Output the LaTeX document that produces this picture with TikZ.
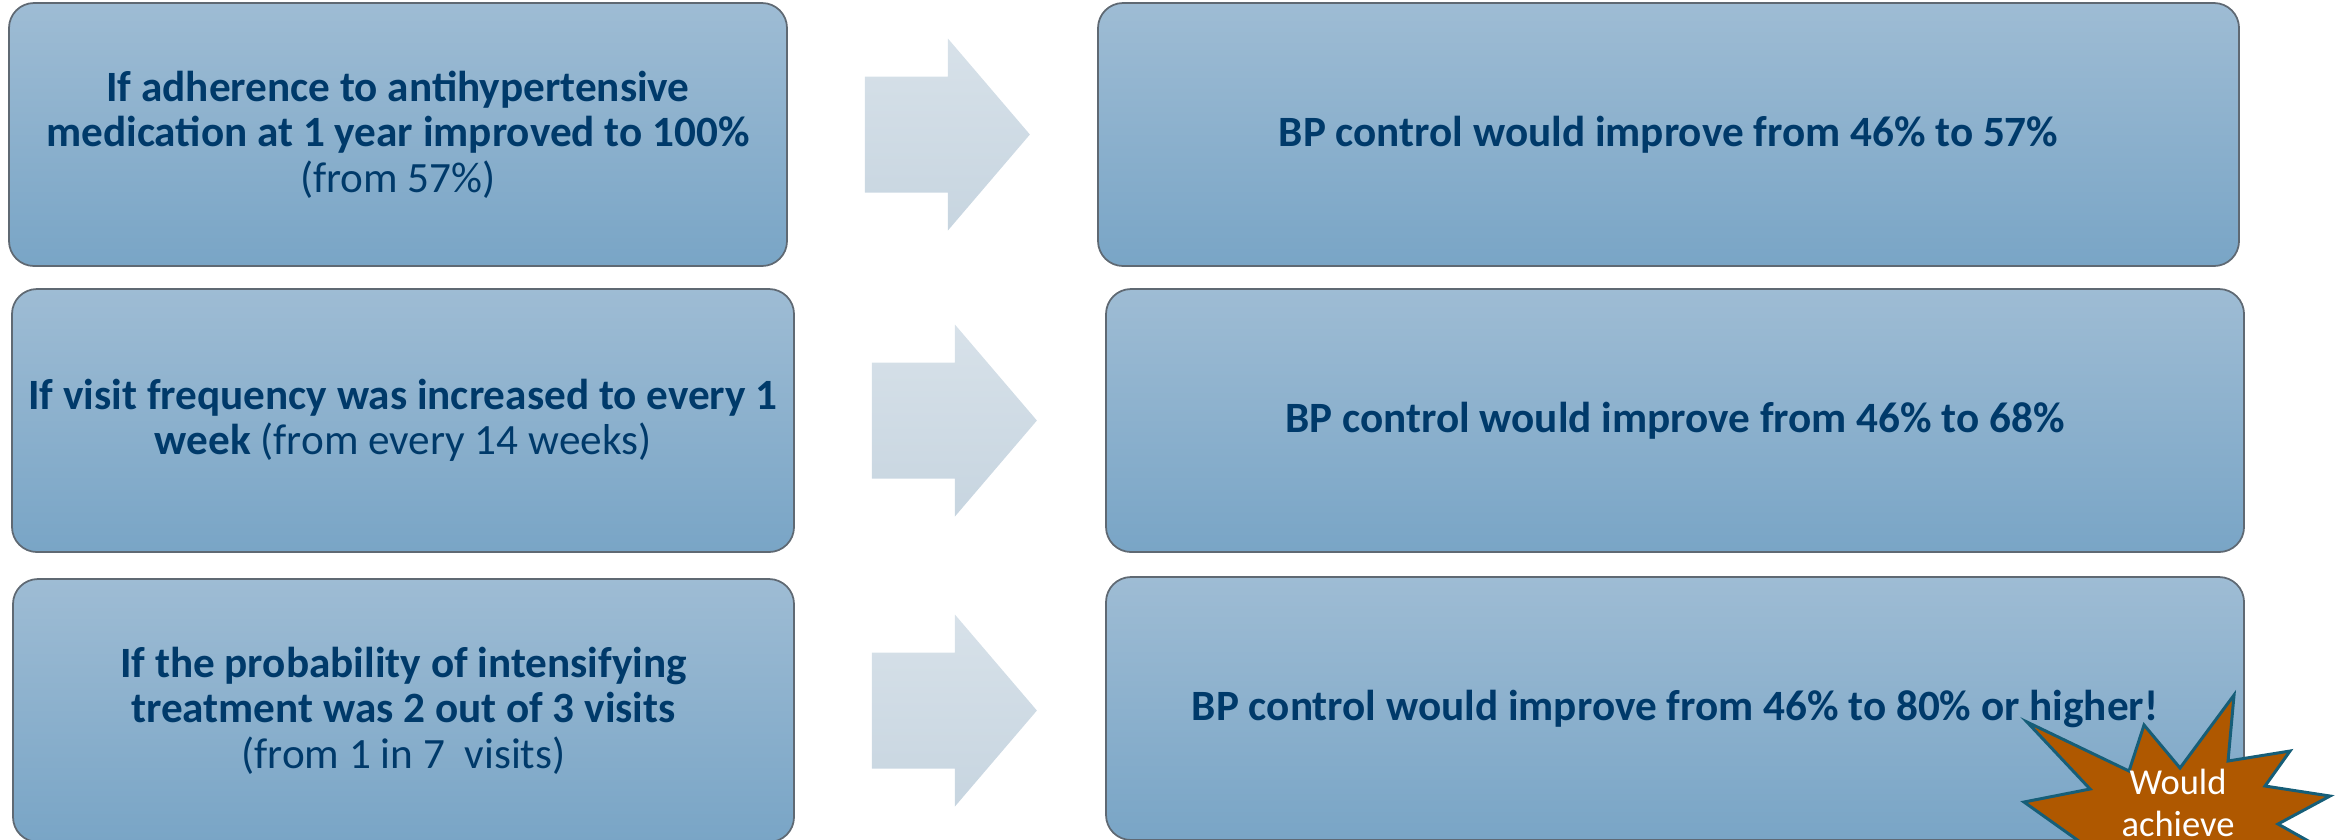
\documentclass[tikz,border=0pt]{standalone}
\usepackage{fontspec}
\setmainfont{Carlito}
\usetikzlibrary{calc}

\definecolor{boxtop}{RGB}{158,188,212}
\definecolor{boxbot}{RGB}{121,165,198}
\definecolor{boxline}{RGB}{95,105,115}
\definecolor{navy}{RGB}{0,58,106}
\definecolor{arrtop}{RGB}{215,225,233}
\definecolor{arrbot}{RGB}{199,213,224}
\definecolor{burst}{RGB}{175,88,0}
\definecolor{burstline}{RGB}{22,94,120}

\tikzset{
  box/.style={draw=boxline, line width=0.5pt, rounded corners=0.25cm,
    top color=boxtop, bottom color=boxbot, text=navy, align=center,
    inner sep=0pt, minimum height=2.63cm,
    font=\fontsize{12.3}{12.9}\selectfont},
  arrowfill/.style={top color=arrtop, bottom color=arrbot, draw=none},
  blockarrow/.pic={
    \path[arrowfill] (0,0.58) -- (0.83,0.58) -- (0.83,0.96) -- (1.65,0)
      -- (0.83,-0.96) -- (0.83,-0.58) -- (0,-0.58) -- cycle;
  },
  burstlabel/.style={text=white, align=center, inner sep=0pt,
    font=\fontsize{10.4}{12}\selectfont},
}

\begin{document}
\begin{tikzpicture}
  \path[use as bounding box, clip] (0,0) rectangle (23.51,-8.39);

  % left column: the changes
  \node[box, minimum width=7.78cm] (l1) at (3.98,-1.345)
    {\textbf{If adherence to antihypertensive}\\
     \textbf{medication at 1 year improved to 100\%}\\
     (from 57\%)};
  \node[box, minimum width=7.82cm] (l2) at (4.03,-4.205)
    {\textbf{If visit frequency was increased to every 1}\\
     \textbf{week} (from every 14 weeks)};
  \node[box, minimum width=7.81cm] (l3) at (4.035,-7.105)
    {\textbf{If the probability of intensifying}\\
     \textbf{treatment was 2 out of 3 visits}\\
     (from 1 in 7\ \ visits)};

  % right column: the outcomes
  \node[box, minimum width=11.41cm] (r1) at (16.685,-1.345)
    {\textbf{BP control would improve from 46\% to 57\%}};
  \node[box, minimum width=11.38cm] (r2) at (16.75,-4.205)
    {\textbf{BP control would improve from 46\% to 68\%}};
  \node[box, minimum width=11.38cm] (r3) at (16.75,-7.085)
    {\textbf{BP control would improve from 46\% to 80\% or higher!}};

  % block arrows between the columns
  \pic (a1) at ($(l1.east)+(0.77,0)$) {blockarrow};
  \pic (a2) at ($(l2.east)+(0.77,0)$) {blockarrow};
  \pic (a3) at ($(l3.east)+(0.77,0)$) {blockarrow};

  % starburst callout
  \draw[fill=burst, draw=burstline, line width=0.85pt, line join=miter]
    (20.27,-7.22) -- (21.29,-7.71) -- (21.44,-7.25) -- (21.80,-7.68)
    -- (22.34,-6.95) -- (22.28,-7.61) -- (22.90,-7.51) -- (22.65,-7.86)
    -- (23.30,-7.96) -- (22.78,-8.24) -- (23.35,-8.56) -- (22.70,-8.62)
    -- (22.60,-9.30) -- (21.80,-8.90) -- (21.00,-9.30) -- (20.90,-8.49)
    -- (20.24,-8.02) -- (20.90,-7.89) -- cycle;
  \node[burstlabel] (burst) at (21.78,-8.03) {Would\\achieve};
\end{tikzpicture}
\end{document}
